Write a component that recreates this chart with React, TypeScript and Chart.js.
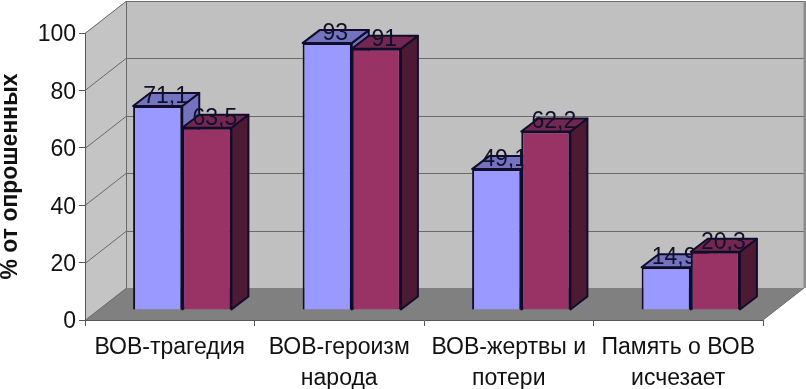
import React, { useEffect, useRef } from "react";
import { Chart, registerables } from "chart.js";

Chart.register(...registerables);

const categories = [
  ["ВОВ-трагедия"],
  ["ВОВ-героизм", "народа"],
  ["ВОВ-жертвы и", "потери"],
  ["Память о ВОВ", "исчезает"],
];
const seriesA = [71.1, 93, 49.1, 14.9];
const seriesB = [63.5, 91, 62.2, 20.3];
const yTicksMax = 100;
const yTitle = "% от опрошенных";

const FONT = "'Liberation Sans', Arial, sans-serif";
const DX = 41, DY = 32; // box depth
const BX = 12.5, BY = 10; // bar shift inside box
const BDX = 17, BDY = 13; // bar depth
const EDGE = "#100c2a";

const faces = [
  { top: "#7373bf", side: "#7373bf" },
  { top: "#732650", side: "#4d1a33" },
];

const poly = (ctx: CanvasRenderingContext2D, pts: number[][], fill: string, stroke?: string, lw = 2) => {
  ctx.beginPath();
  pts.forEach((p, i) => (i ? ctx.lineTo(p[0], p[1]) : ctx.moveTo(p[0], p[1])));
  ctx.closePath();
  ctx.fillStyle = fill;
  ctx.fill();
  if (stroke) {
    ctx.strokeStyle = stroke;
    ctx.lineWidth = lw;
    ctx.lineJoin = "round";
    ctx.stroke();
  }
};

const box3d = {
  id: "box3d",
  beforeDraw(chart: any) {
    const { ctx, chartArea: a, scales } = chart;
    const y = scales.y;
    const y0 = y.getPixelForValue(0);
    const yT = y.getPixelForValue(yTicksMax);
    ctx.save();
    poly(ctx, [[a.left, yT], [a.left + DX, yT - DY], [a.left + DX, y0 - DY], [a.left, y0]], "#c4c4c4");
    poly(ctx, [[a.left + DX, yT - DY], [a.right + DX, yT - DY], [a.right + DX, y0 - DY], [a.left + DX, y0 - DY]], "#c0c0c0");
    poly(ctx, [[a.left, y0], [a.left + DX, y0 - DY], [a.right + DX, y0 - DY], [a.right, y0]], "#808080");
    ctx.strokeStyle = "#6a6a6a";
    ctx.lineWidth = 1;
    for (let v = 0; v <= yTicksMax; v += 20) {
      const py = Math.round(y.getPixelForValue(v)) + 0.5;
      ctx.beginPath();
      ctx.moveTo(a.left, py);
      ctx.lineTo(a.left + DX, py - DY);
      if (v > 0) ctx.lineTo(a.right + DX, py - DY);
      ctx.stroke();
    }
    ctx.beginPath();
    ctx.moveTo(a.left + DX + 0.5, yT - DY);
    ctx.lineTo(a.left + DX + 0.5, y0 - DY);
    ctx.moveTo(a.right + DX, y0 - DY);
    ctx.lineTo(a.right, y0);
    ctx.stroke();
    ctx.strokeStyle = "#8c8c8c";
    ctx.lineWidth = 3;
    ctx.beginPath();
    ctx.moveTo(a.right + DX + 1, yT - DY);
    ctx.lineTo(a.right + DX + 1, y0 - DY);
    ctx.stroke();
    ctx.restore();
  },
  beforeDatasetsDraw(chart: any) {
    const { ctx } = chart;
    // Left series first, so the right-hand bar covers the left series' label as in the reference.
    chart.data.datasets.forEach((ds: any, index: number) => {
      const meta = chart.getDatasetMeta(index);
      const f = faces[index];
      ctx.save();
      ctx.translate(BX, -BY);
      for (const el of meta.data) {
        const { x, y, base, width } = el.getProps(["x", "y", "base", "width"], true);
        const l = x - width / 2, r = x + width / 2;
        poly(ctx, [[r, y], [r + BDX, y - BDY], [r + BDX, base - BDY], [r, base]], f.side, EDGE);
        poly(ctx, [[l, y], [l + BDX, y - BDY], [r + BDX, y - BDY], [r, y]], f.top, EDGE);
      }
      meta.controller.draw();
      ctx.font = `23px ${FONT}`;
      ctx.textAlign = "center";
      ctx.textBaseline = "middle";
      ctx.fillStyle = "#10102a";
      meta.data.forEach((el: any, i: number) => {
        const { x, y } = el.getProps(["x", "y"], true);
        ctx.fillText(String(ds.data[i]).replace(".", ","), x + 8, y - 9.5);
      });
      ctx.restore();
    });
    return false;
  },
};

export default function App() {
  const ref = useRef<HTMLCanvasElement>(null);
  useEffect(() => {
    const chart = new Chart(ref.current!, {
      type: "bar",
      data: {
        labels: categories,
        datasets: [
          { label: "A", data: seriesA, backgroundColor: "#9999ff", borderColor: EDGE, borderWidth: 2 },
          { label: "B", data: seriesB, backgroundColor: "#993366", borderColor: EDGE, borderWidth: 2 },
        ],
      },
      options: {
        responsive: false,
        animation: false,
        layout: { padding: { top: 33, right: 43, left: 0, bottom: 0 } },
        plugins: { legend: { display: false }, tooltip: { enabled: false } },
        datasets: { bar: { categoryPercentage: 0.58, barPercentage: 1 } },
        scales: {
          x: {
            afterFit: (s: any) => { s.height = 69; },
            grid: { drawOnChartArea: false, color: "#555", tickLength: 6, offset: true },
            border: { color: "#555" },
            ticks: { color: "#111", font: { family: FONT, size: 23, lineHeight: 1.35 }, maxRotation: 0, autoSkip: false, padding: 6 },
          },
          y: {
            min: 0,
            max: yTicksMax,
            afterFit: (s: any) => { s.width = 85; },
            grid: { drawOnChartArea: false, color: "#555", tickLength: 6 },
            border: { color: "#555" },
            ticks: { stepSize: 20, color: "#111", font: { family: FONT, size: 23 }, padding: 3, labelOffset: 2 },
            title: { display: true, text: yTitle, color: "#111", font: { family: FONT, size: 23, weight: "bold" }, padding: { top: -3, bottom: 0 } },
          },
        },
      } as any,
      plugins: [box3d],
    });
    return () => chart.destroy();
  }, []);
  return (
    <div style={{ position: "fixed", left: 0, top: 0, background: "#fff" }}>
      <canvas ref={ref} width={806} height={389} style={{ display: "block" }} />
    </div>
  );
}
